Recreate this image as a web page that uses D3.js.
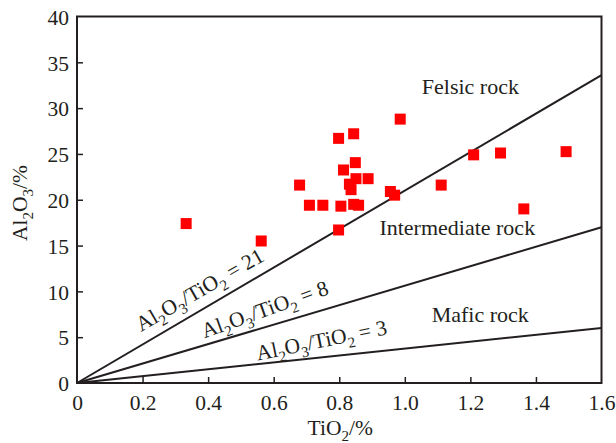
<!DOCTYPE html>
<html>
<head>
    <meta charset="utf-8">
    <script src="https://cdnjs.cloudflare.com/ajax/libs/d3/7.8.5/d3.min.js"></script>
    <style>
        body { margin: 0; background: #fff; }
        text { font-family: "Liberation Serif", "Times New Roman", serif; fill: #231f20; }
    </style>
</head>
<body>
    <div id="chart"></div>
    <script>
        // samples
        const tio2 = [0.333, 0.562, 0.679, 0.709, 0.750, 0.798, 0.798, 0.805, 0.813, 0.831,
            0.836, 0.844, 0.849, 0.851, 0.844, 0.859, 0.888, 0.956, 0.969, 0.986,
            1.111, 1.210, 1.292, 1.363, 1.492]
        const al2o3 = [17.4, 15.5, 21.6, 19.4, 19.4, 26.7, 16.7, 19.3, 23.25, 21.7,
            21.1, 27.2, 24.05, 22.3, 19.5, 19.4, 22.3, 20.9, 20.5, 28.8,
            21.6, 24.9, 25.1, 19.0, 25.25]

        // ratio lines from the origin to the right edge (end values as drawn)
        const ratios = [21, 8, 3]
        const lineEndY = [33.6, 17, 6]
        const regionNames = ["Felsic rock", "Intermediate rock", "Mafic rock"]

        const xTicks = [0, 0.2, 0.4, 0.6, 0.8, 1.0, 1.2, 1.4, 1.6]
        const yTicks = [0, 5, 10, 15, 20, 25, 30, 35, 40]

        const W = 616, H = 443
        const MARGIN = { top: 16.5, right: 14.5, bottom: 60, left: 77 }
        const w = W - MARGIN.left - MARGIN.right
        const h = H - MARGIN.top - MARGIN.bottom
        const ink = "#231f20"

        let svg = d3.select("#chart").append("svg").attr("width", W).attr("height", H)
        let g = svg.append("g").attr("transform", `translate(${MARGIN.left},${MARGIN.top})`)

        let x = d3.scaleLinear().domain([0, 1.6]).range([0, w])
        let y = d3.scaleLinear().domain([0, 40]).range([h, 0])

        // ratio lines
        ratios.forEach(function (r, i) {
            g.append("line")
                .attr("x1", x(0)).attr("y1", y(0))
                .attr("x2", x(1.6)).attr("y2", y(lineEndY[i]))
                .attr("stroke", ink).attr("stroke-width", 2)
        })

        // axes
        let xAxis = g.append("g").attr("transform", `translate(0,${h})`)
            .call(d3.axisBottom(x).tickValues(xTicks).tickSizeInner(-6).tickSizeOuter(0).tickPadding(12)
                .tickFormat(d => d === 0 ? "0" : d.toFixed(1)))
        let yAxis = g.append("g")
            .call(d3.axisLeft(y).tickValues(yTicks).tickSizeInner(-6).tickSizeOuter(0).tickPadding(8))
        ;[xAxis, yAxis].forEach(a => {
            a.select(".domain").remove()
            a.selectAll("line").attr("stroke", ink).attr("stroke-width", 1.5)
            a.selectAll("text").style("font-size", "21.5px").attr("fill", ink)
                .style("font-family", '"Liberation Serif", serif')
        })
        xAxis.selectAll("line").filter(d => d === 0 || d === 1.6).remove()
        yAxis.selectAll("line").filter(d => d === 0 || d === 40).remove()
        yAxis.selectAll("text").attr("dy", "0.36em")

        // frame
        g.append("rect").attr("x", 0).attr("y", 0).attr("width", w).attr("height", h)
            .attr("fill", "none").attr("stroke", ink).attr("stroke-width", 2)

        // points
        const sq = 11
        g.selectAll("rect.pt").data(tio2).enter().append("rect").attr("class", "pt")
            .attr("x", (d, i) => x(d) - sq / 2)
            .attr("y", (d, i) => y(al2o3[i]) - sq / 2)
            .attr("width", sq).attr("height", sq)
            .attr("fill", "#ff0000")

        // region labels
        const regionPos = [[1.2, 31.5], [1.16, 16.2], [1.23, 6.7]]
        regionNames.forEach(function (n, i) {
            g.append("text").attr("x", x(regionPos[i][0])).attr("y", y(regionPos[i][1]))
                .attr("text-anchor", "middle").style("font-size", "22px").text(n)
        })

        // ratio labels, rotated along lines
        const ratioLabelPos = [[0.385, 9.5, -30], [0.58, 7.3, -19.5], [0.75, 3.9, -11.5]]
        function sub(t, s) {
            t.append("tspan").attr("dy", 6).style("font-size", "15px").text(s)
        }
        ratios.forEach(function (r, i) {
            let p = ratioLabelPos[i]
            let t = g.append("text")
                .attr("transform", `translate(${x(p[0])},${y(p[1])}) rotate(${p[2]})`)
                .attr("text-anchor", "middle").style("font-size", "21.5px")
            t.append("tspan").text("Al")
            sub(t, "2")
            t.append("tspan").attr("dy", -6).text("O")
            sub(t, "3")
            t.append("tspan").attr("dy", -6).text("/TiO")
            sub(t, "2")
            t.append("tspan").attr("dy", -6).text(" = " + r)
        })

        // axis titles
        let xt = svg.append("text").attr("x", MARGIN.left + w / 2 + 1).attr("y", 435)
            .attr("text-anchor", "middle").style("font-size", "21.5px")
        xt.append("tspan").text("TiO")
        sub(xt, "2")
        xt.append("tspan").attr("dy", -6).text("/%")

        let yt = svg.append("text").attr("transform", "translate(27,203) rotate(-90)")
            .attr("text-anchor", "middle").style("font-size", "21.5px")
        yt.append("tspan").text("Al")
        sub(yt, "2")
        yt.append("tspan").attr("dy", -6).text("O")
        sub(yt, "3")
        yt.append("tspan").attr("dy", -6).text("/%")
    </script>
</body>
</html>
